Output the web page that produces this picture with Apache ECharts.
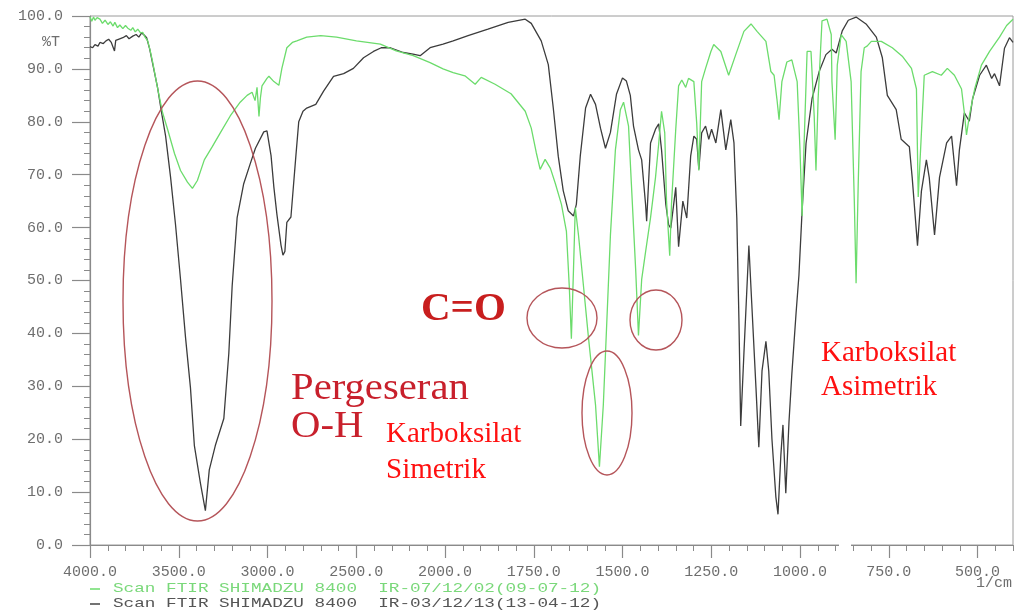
<!DOCTYPE html>
<html><head><meta charset="utf-8">
<script src="https://cdn.jsdelivr.net/npm/echarts@6/dist/echarts.min.js"></script>
<style>html,body{margin:0;padding:0;background:#fff}#c{width:1015px;height:612px}</style>
</head><body><div id="c"></div>
<script>
// Wavenumber ticks (1/cm) shown on the x axis
const xTickLabels = ['4000.0','3500.0','3000.0','2500.0','2000.0','1750.0','1500.0','1250.0','1000.0','750.0','500.0'];
const yTickLabels = ['0.0','10.0','20.0','30.0','40.0','50.0','60.0','70.0','80.0','90.0','100.0'];
const legendNames = ['Scan FTIR SHIMADZU 8400  IR-07/12/02(09-07-12)','Scan FTIR SHIMADZU 8400  IR-03/12/13(13-04-12)'];

// Black spectrum  [wavenumber, %T]
const spectrumBlack = [[4000,94.2],[3985,94.0],[3972,94.6],[3955,94.3],[3944,95.0],[3925,94.8],[3910,95.3],[3895,95.6],[3880,95.0],[3871,95.2],[3862,93.4],[3855,95.4],[3840,95.6],[3815,95.9],[3795,96.3],[3780,95.7],[3759,96.2],[3740,96.5],[3725,96.0],[3709,96.8],[3695,96.4],[3681,95.9],[3664,93.8],[3647,91.0],[3619,86.4],[3597,81.8],[3574,77.3],[3546,69.5],[3518,60.5],[3490,50.2],[3462,39.3],[3434,29.7],[3412,18.8],[3378,11.7],[3350,6.5],[3328,14.2],[3294,18.8],[3246,23.9],[3218,36.2],[3199,49.0],[3171,61.9],[3134,68.3],[3098,72.0],[3068,75.0],[3021,78.1],[3003,78.3],[2980,73.6],[2964,67.6],[2947,62.5],[2924,56.7],[2913,54.8],[2902,55.5],[2891,61.0],[2868,62.0],[2840,73.6],[2824,80.0],[2800,82.0],[2779,82.6],[2728,83.3],[2684,85.8],[2628,88.6],[2571,89.1],[2516,90.1],[2459,92.1],[2403,93.3],[2359,94.0],[2308,94.0],[2235,93.1],[2180,92.8],[2140,92.5],[2084,94.0],[2011,94.7],[1977,95.3],[1935,96.3],[1879,97.5],[1822,98.8],[1774,99.4],[1757,98.6],[1729,95.3],[1709,90.8],[1695,82.6],[1681,73.5],[1667,67.0],[1653,63.2],[1638,62.2],[1630,64.4],[1619,73.5],[1604,82.6],[1590,85.2],[1576,83.3],[1562,78.8],[1548,75.0],[1534,78.0],[1517,85.2],[1500,88.3],[1489,87.7],[1478,85.0],[1469,79.2],[1455,74.7],[1446,72.8],[1435,64.4],[1432,61.2],[1421,76.0],[1407,78.6],[1398,79.6],[1390,74.7],[1378,64.4],[1370,60.5],[1364,59.9],[1350,67.6],[1342,56.4],[1330,65.0],[1319,61.8],[1308,73.5],[1299,77.3],[1291,76.7],[1285,71.0],[1277,77.9],[1266,79.2],[1257,76.7],[1249,78.6],[1237,76.0],[1223,82.3],[1209,74.7],[1195,80.4],[1186,76.0],[1178,61.8],[1172,42.5],[1167,22.5],[1158,36.2],[1144,56.6],[1136,45.8],[1124,29.7],[1116,18.5],[1107,32.9],[1096,38.5],[1088,32.9],[1079,20.0],[1068,9.1],[1062,5.8],[1054,16.9],[1048,22.7],[1040,9.8],[1031,23.3],[1023,32.3],[1011,43.9],[1003,51.0],[994,63.3],[983,75.9],[966,84.4],[946,89.5],[927,92.7],[910,93.7],[898,93.0],[881,97.2],[864,99.2],[842,99.8],[814,98.5],[785,96.0],[768,92.1],[754,85.0],[729,82.3],[715,76.7],[692,75.3],[684,69.5],[669,56.6],[658,66.9],[644,72.8],[636,69.5],[621,58.6],[607,69.5],[587,76.0],[573,77.3],[559,67.9],[551,74.7],[537,81.7],[523,80.1],[514,84.3],[494,88.8],[475,90.7],[460,88.2],[452,89.1],[438,86.8],[424,93.9],[410,95.9],[400,95.0]];

// Green spectrum  [wavenumber, %T]
const spectrumGreen = [[4000,99.8],[3990,99.0],[3980,99.8],[3972,99.2],[3960,99.7],[3944,99.4],[3930,98.6],[3915,99.2],[3899,98.4],[3885,98.9],[3870,98.1],[3860,98.8],[3845,97.8],[3832,98.3],[3815,97.6],[3800,98.2],[3787,97.7],[3770,97.3],[3759,97.8],[3745,97.0],[3731,97.5],[3715,96.8],[3703,96.9],[3690,96.0],[3675,95.3],[3662,93.6],[3647,91.3],[3619,86.3],[3591,81.7],[3563,78.6],[3524,74.0],[3490,70.8],[3451,68.6],[3423,67.4],[3395,68.9],[3356,72.8],[3311,75.3],[3266,77.9],[3210,81.1],[3154,83.7],[3115,85.0],[3087,85.6],[3070,84.0],[3059,86.5],[3048,81.0],[3040,84.5],[3031,86.8],[3003,88.2],[2992,88.6],[2964,87.6],[2936,86.9],[2919,90.1],[2891,94.0],[2860,95.0],[2835,95.3],[2779,96.0],[2700,96.3],[2611,96.0],[2499,95.3],[2364,94.7],[2275,93.4],[2179,92.5],[2084,91.2],[2011,90.0],[1977,89.3],[1944,88.7],[1915,87.1],[1898,88.4],[1859,87.1],[1814,85.3],[1774,82.0],[1757,78.8],[1743,74.2],[1732,71.0],[1718,72.9],[1703,71.2],[1689,68.3],[1672,64.4],[1658,59.3],[1650,49.0],[1644,39.0],[1638,52.2],[1633,63.8],[1624,58.6],[1610,49.0],[1596,39.3],[1576,26.5],[1565,14.8],[1554,26.5],[1548,36.1],[1534,58.6],[1520,74.7],[1506,82.3],[1497,83.7],[1483,79.2],[1475,68.3],[1463,52.2],[1455,39.6],[1446,50.2],[1435,55.4],[1421,61.9],[1407,69.5],[1398,75.9],[1390,82.0],[1381,77.9],[1376,65.0],[1367,54.7],[1362,64.4],[1350,78.6],[1342,86.8],[1333,87.9],[1322,86.5],[1314,88.2],[1299,87.6],[1291,79.8],[1285,70.8],[1277,87.6],[1266,90.1],[1251,93.3],[1243,94.6],[1223,93.3],[1201,88.8],[1181,92.7],[1158,97.1],[1138,98.5],[1121,97.1],[1096,95.2],[1082,89.5],[1073,88.8],[1065,84.3],[1059,80.4],[1051,87.6],[1037,91.3],[1023,91.7],[1008,87.6],[1000,74.7],[994,62.2],[989,74.7],[980,93.3],[969,93.3],[960,81.1],[955,70.8],[949,84.3],[938,99.1],[924,99.4],[912,96.5],[910,87.6],[901,76.6],[895,90.7],[884,96.5],[870,95.2],[856,87.6],[847,65.0],[842,49.5],[836,68.3],[828,89.5],[819,94.0],[811,94.3],[799,95.2],[771,95.2],[740,94.0],[712,92.4],[686,90.1],[672,86.2],[667,65.8],[658,77.9],[650,88.8],[627,89.5],[602,88.8],[585,90.1],[565,88.8],[545,86.2],[537,81.7],[531,77.5],[523,81.1],[508,86.2],[489,90.7],[466,93.3],[438,96.0],[418,98.2],[400,99.4]];

// The instrument plots 4000-2000 at half the scale of 2000-400.
function toAxis(w) { return w >= 2000 ? (4000 - w) / 2 : 1000 + (2000 - w); }
function fromAxis(p) { return p <= 1000 ? 4000 - 2 * p : 3000 - p; }

const chart = echarts.init(document.getElementById('c'), null, {renderer: 'canvas'});
const mono = 'Liberation Mono';
const grey = '#6e6e6e';
const axisCol = '#8a8a8a';

const option = {
  animation: false,
  backgroundColor: '#fff',
  grid: {left: 90, right: 2, top: 16, bottom: 67, show: true, borderColor: '#9a9a9a', borderWidth: 1, containLabel: false},
  xAxis: [{
    type: 'value', min: 0, max: 2600, interval: 250,
    axisLine: {show: true, lineStyle: {color: axisCol, width: 1.2}},
    axisTick: {show: true, length: 13, lineStyle: {color: axisCol, width: 1.2}},
    splitLine: {show: false},
    axisLabel: {
      show: true, margin: 20, color: grey, fontFamily: mono, fontSize: 15, showMaxLabel: false,
      formatter: function (p) {
        const w = fromAxis(p);
        const s = w.toFixed(1);
        return xTickLabels.indexOf(s) >= 0 ? s : '';
      }
    }
  }, {
    type: 'value', min: 0, max: 2600, interval: 50, position: 'bottom',
    axisLine: {show: false},
    axisTick: {show: true, length: 6, lineStyle: {color: axisCol, width: 1}},
    axisLabel: {show: false}, splitLine: {show: false}
  }],
  yAxis: {
    type: 'value', min: 0, max: 100, interval: 10,
    axisLine: {show: true, lineStyle: {color: axisCol, width: 1.2}},
    axisTick: {show: true, length: 18, lineStyle: {color: axisCol, width: 1.2}},
    minorTick: {show: true, splitNumber: 5, length: 6, lineStyle: {color: axisCol, width: 1}},
    splitLine: {show: false},
    axisLabel: {margin: 27, color: grey, fontFamily: mono, fontSize: 15,
      formatter: function (v) { return yTickLabels[Math.round(v / 10)]; }}
  },
  series: [{
    name: legendNames[1], type: 'line', xAxisIndex: 0, showSymbol: false, symbol: 'none', silent: true,
    lineStyle: {color: '#3c3c3c', width: 1.3}, z: 2,
    data: spectrumBlack.map(d => [toAxis(d[0]), d[1]])
  }, {
    name: legendNames[0], type: 'line', xAxisIndex: 0, showSymbol: false, symbol: 'none', silent: true,
    lineStyle: {color: '#6cdc6c', width: 1.3}, z: 3,
    data: spectrumGreen.map(d => [toAxis(d[0]), d[1]])
  }],
  graphic: [
    // axis break gap
    {type: 'rect', z: 50, shape: {x: 839, y: 539, width: 12, height: 24}, style: {fill: '#fff'}},
    {type: 'text', z: 60, x: 42, y: 42, style: {text: '%T', font: '15px "Liberation Mono"', fill: grey, verticalAlign: 'middle'}},
    {type: 'text', z: 60, x: 1012, y: 583, style: {text: '1/cm', font: '15px "Liberation Mono"', fill: grey, align: 'right', verticalAlign: 'middle'}},
    // legend
    {type: 'line', z: 60, shape: {x1: 90, y1: 589, x2: 100, y2: 589}, style: {stroke: '#6cdc6c', lineWidth: 1.5}},
    {type: 'text', z: 60, x: 113, y: 589, scaleX: 1.36, style: {text: legendNames[0], font: '13px "Liberation Mono"', fill: '#7ad87a', verticalAlign: 'middle'}},
    {type: 'line', z: 60, shape: {x1: 90, y1: 604, x2: 100, y2: 604}, style: {stroke: '#444', lineWidth: 1.5}},
    {type: 'text', z: 60, x: 113, y: 604, scaleX: 1.36, style: {text: legendNames[1], font: '13px "Liberation Mono"', fill: '#555', verticalAlign: 'middle'}},
    // annotations
    {type: 'ellipse', z: 40, shape: {cx: 197.5, cy: 301, rx: 74.5, ry: 220}, style: {fill: 'none', stroke: '#b5555a', lineWidth: 1.4}},
    {type: 'ellipse', z: 40, shape: {cx: 562, cy: 318, rx: 35, ry: 30}, style: {fill: 'none', stroke: '#b5555a', lineWidth: 1.4}},
    {type: 'ellipse', z: 40, shape: {cx: 656, cy: 320, rx: 26, ry: 30}, style: {fill: 'none', stroke: '#b5555a', lineWidth: 1.4}},
    {type: 'ellipse', z: 40, shape: {cx: 607, cy: 413, rx: 25, ry: 62}, style: {fill: 'none', stroke: '#b5555a', lineWidth: 1.4}},
    {type: 'text', z: 60, x: 291, y: 389, scaleX: 1.1, style: {text: 'Pergeseran', font: '37px "Liberation Serif"', fill: '#c8202c', verticalAlign: 'middle'}},
    {type: 'text', z: 60, x: 291, y: 427, scaleX: 1.1, style: {text: 'O-H', font: '37px "Liberation Serif"', fill: '#c8202c', verticalAlign: 'middle'}},
    {type: 'text', z: 60, x: 421, y: 309, style: {text: 'C=O', font: 'bold 41px "Liberation Serif"', fill: '#c81e1e', verticalAlign: 'middle'}},
    {type: 'text', z: 60, x: 386, y: 434, style: {text: 'Karboksilat', font: '29px "Liberation Serif"', fill: '#ff1010', verticalAlign: 'middle'}},
    {type: 'text', z: 60, x: 386, y: 470, style: {text: 'Simetrik', font: '29px "Liberation Serif"', fill: '#ff1010', verticalAlign: 'middle'}},
    {type: 'text', z: 60, x: 821, y: 353, style: {text: 'Karboksilat', font: '29px "Liberation Serif"', fill: '#ff1010', verticalAlign: 'middle'}},
    {type: 'text', z: 60, x: 821, y: 387, style: {text: 'Asimetrik', font: '29px "Liberation Serif"', fill: '#ff1010', verticalAlign: 'middle'}}
  ]
};
chart.setOption(option);
</script>
</body></html>
